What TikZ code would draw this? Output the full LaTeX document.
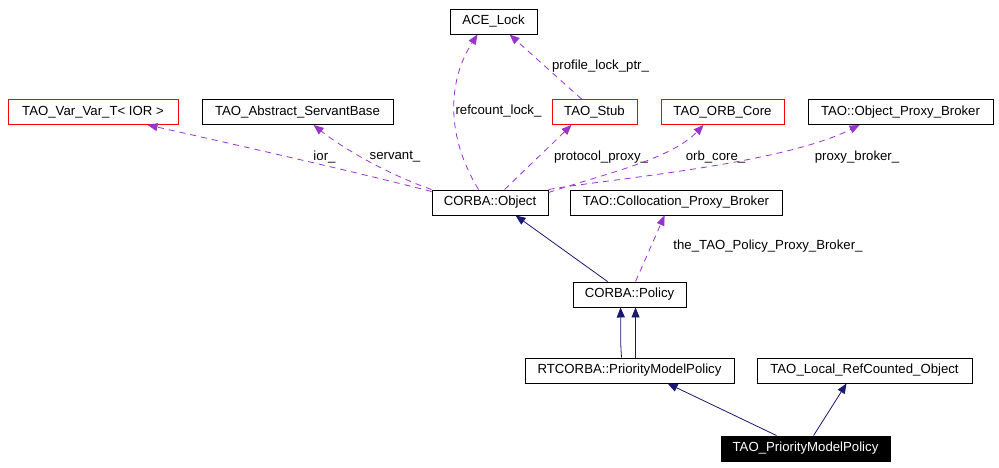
\documentclass[tikz,border=0pt]{standalone}
\usepackage{fontspec}
\setmainfont{Liberation Sans}
\usetikzlibrary{arrows.meta,calc}
\definecolor{edgepurple}{HTML}{9A32CD}
\definecolor{edgenavy}{HTML}{191970}
\begin{document}
\begin{tikzpicture}[x=1pt,y=-1pt,
  box/.style={draw=black,line width=0.9pt,fill=white,inner sep=0pt,minimum height=25pt,anchor=center,font=\fontsize{13.2}{15}\selectfont},
  redbox/.style={box,draw=red},
  curbox/.style={box,fill=black,text=white},
  uses/.style={draw=edgepurple,line width=0.8pt,dash pattern=on 6pt off 5pt,-{Triangle[length=10pt,width=8pt]}},
  inh/.style={draw=edgenavy,line width=0.8pt,-{Triangle[length=10pt,width=8pt]}},
  lbl/.style={font=\fontsize{13.2}{15}\selectfont,inner sep=0pt}]
\useasboundingbox (0,0) rectangle (999,468);
\fill[white] (0,0) rectangle (999,468);
% nodes
\node[box,minimum width=87pt] (acelock) at (493.5,21.5) {ACE\_Lock};
\node[redbox,minimum width=170pt] (varvar) at (93,112) {TAO\_Var\_Var\_T< IOR >};
\node[box,minimum width=191pt] (absserv) at (297.5,112) {TAO\_Abstract\_ServantBase};
\node[redbox,minimum width=85pt] (stub) at (594.5,112) {TAO\_Stub};
\node[redbox,minimum width=123pt] (orbcore) at (722.5,112) {TAO\_ORB\_Core};
\node[box,minimum width=185pt] (opb) at (900.5,112) {TAO::Object\_Proxy\_Broker};
\node[box,minimum width=116pt] (cobj) at (490,202.5) {CORBA::Object};
\node[box,minimum width=212pt] (cpb) at (676,202.5) {TAO::Collocation\_Proxy\_Broker};
\node[box,minimum width=113pt] (cpol) at (629.5,294.5) {CORBA::Policy};
\node[box,minimum width=209pt] (rtpmp) at (629.5,370.5) {RTCORBA::PriorityModelPolicy};
\node[box,minimum width=215pt] (lrco) at (864.5,370.5) {TAO\_Local\_RefCounted\_Object};
\node[curbox,minimum width=169pt] (tpmp) at (805.5,448.5) {TAO\_PriorityModelPolicy};
% coordinates on node borders
\coordinate (c1) at ($(cobj.north west)+(47,0)$);
\coordinate (a1) at ($(acelock.south west)+(28,0)$);
\coordinate (s1) at ($(stub.north west)+(30,0)$);
\coordinate (a2) at ($(acelock.south west)+(60,0)$);
\coordinate (c2) at ($(cobj.north west)+(0,2)$);
\coordinate (v1) at ($(varvar.south west)+(140,0)$);
\coordinate (c3) at ($(cobj.north west)+(0,0)$);
\coordinate (ab1) at ($(absserv.south west)+(112,0)$);
\coordinate (c4) at ($(cobj.north west)+(73,0)$);
\coordinate (s2) at ($(stub.south west)+(20,0)$);
\coordinate (c5) at ($(cobj.north east)+(0,3)$);
\coordinate (o1) at ($(orbcore.south west)+(43,0)$);
\coordinate (c6) at ($(cobj.north east)+(0,0)$);
\coordinate (p1) at ($(opb.south west)+(52,0)$);
\coordinate (cp1) at ($(cpol.north west)+(63,0)$);
\coordinate (cb1) at ($(cpb.south west)+(95,0)$);
\coordinate (cp2) at ($(cpol.north west)+(35,0)$);
\coordinate (co1) at ($(cobj.south west)+(84,0)$);
\coordinate (r1) at ($(rtpmp.north west)+(97,0)$);
\coordinate (cp3) at ($(cpol.south west)+(48,0)$);
\coordinate (r2) at ($(rtpmp.north west)+(111,0)$);
\coordinate (cp4) at ($(cpol.south west)+(63,0)$);
\coordinate (t1) at ($(tpmp.north west)+(56,0)$);
\coordinate (r3) at ($(rtpmp.south west)+(143,0)$);
\coordinate (t2) at ($(tpmp.north west)+(93,0)$);
\coordinate (l1) at ($(lrco.south west)+(90,0)$);
% usage edges
\draw[uses] (c1) .. controls (445,135) and (448,80) .. (a1);
\node[lbl] (l_refcount) at (498.5,111) {refcount\_lock\_};
\draw[uses] (s1) -- (a2);
\node[lbl] (l_profile) at (600.5,66) {profile\_lock\_ptr\_};
\draw[uses] (c2) .. controls (380,178) and (260,150) .. (v1);
\node[lbl] (l_ior) at (324.5,157) {ior\_};
\draw[uses] (c3) .. controls (390,175) and (345,150) .. (ab1);
\node[lbl] (l_servant) at (395,157) {servant\_};
\draw[uses] (c4) -- (s2);
\node[lbl] (l_protocol) at (601,157) {protocol\_proxy\_};
\draw[uses] (c5) .. controls (600,175) and (670,160) .. (o1);
\node[lbl] (l_orb) at (715.5,157) {orb\_core\_};
\draw[uses] (c6) .. controls (600,180) and (780,165) .. (p1);
\node[lbl] (l_proxy) at (857,157) {proxy\_broker\_};
\draw[uses] (cp1) -- (cb1);
\node[lbl] (l_the) at (768,246) {the\_TAO\_Policy\_Proxy\_Broker\_};
% inheritance edges
\draw[inh] (cp2) -- (co1);
\draw[inh] (r1) .. controls (620,340) and (621,325) .. (cp3);
\draw[inh] (r2) -- (cp4);
\draw[inh] (t1) -- (r3);
\draw[inh] (t2) -- (l1);
\end{tikzpicture}
\end{document}
